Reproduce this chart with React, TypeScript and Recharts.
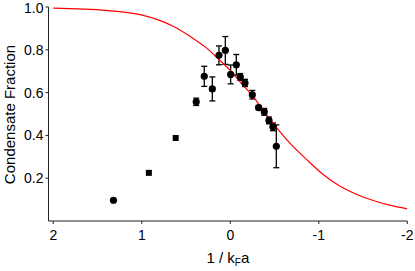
import React from 'react';
import { ComposedChart, Scatter, Line, XAxis, YAxis, ErrorBar } from 'recharts';

// measured points (circles)
const circleX = [1.32, 0.385, 0.294, 0.203, 0.128, 0.056, -0.004, -0.068, -0.113, -0.166, -0.249, -0.32, -0.384, -0.437, -0.482, -0.52];
const circleY = [0.097, 0.557, 0.676, 0.617, 0.774, 0.797, 0.685, 0.73, 0.673, 0.645, 0.59, 0.53, 0.51, 0.47, 0.44, 0.349];
const circleErr = [0, 0.017, 0.047, 0.056, 0.044, 0.065, 0.044, 0.048, 0.016, 0.017, 0.02, 0.01, 0.016, 0.016, 0.018, 0.1];

// square markers
const squareX = [0.92, 0.617];
const squareY = [0.225, 0.388];

// theory curve
const curveX = [2.0, 1.4, 1.02, 0.83, 0.64, 0.455, 0.267, 0.116, 0.0, -0.1, -0.26, -0.45, -0.655, -0.863, -1.05, -1.24, -1.43, -1.615, -1.8, -2.0];
const curveY = [0.995, 0.984, 0.964, 0.942, 0.909, 0.863, 0.808, 0.75, 0.703, 0.655, 0.58, 0.475, 0.372, 0.287, 0.217, 0.162, 0.124, 0.096, 0.074, 0.057];

const xTicks = [2, 1, 0, -1, -2];
const yTicks = [0.2, 0.4, 0.6, 0.8, 1.0];

const circles = circleX.map((x, i) => ({ x, y: circleY[i], err: circleErr[i] }));
const squares = squareX.map((x, i) => ({ x, y: squareY[i] }));
const curve = curveX.map((x, i) => ({ x, y: curveY[i] }));

const FONT = '"Liberation Sans", Arial, Helvetica, sans-serif';

const Dot = (props: any) => <circle cx={props.cx} cy={props.cy} r={3.6} fill="#000" />;
const Square = (props: any) => <rect x={props.cx - 3} y={props.cy - 3} width={6} height={6} fill="#000" />;

const XLabel = (props: any) => {
  const { viewBox } = props;
  const cx = viewBox.x + viewBox.width / 2;
  return (
    <text x={cx} y={viewBox.y + 42} textAnchor="middle" fontSize={15} fontFamily={FONT} fill="#000">
      1 / k<tspan dy={3} fontSize={10}>F</tspan><tspan dy={-3}>a</tspan>
    </text>
  );
};

const YLabel = () => (
  <text x={15} y={114.5} transform="rotate(-90, 15, 114.5)" textAnchor="middle" fontSize={15} fontFamily={FONT} fill="#000">
    Condensate Fraction
  </text>
);

export default function App() {
  return (
    <div style={{ position: 'absolute', left: 0, top: 0, background: '#fff' }}>
      <ComposedChart width={415} height={271} margin={{ top: 7, right: 7.7, bottom: 0, left: 0 }}>
        <XAxis
          type="number"
          dataKey="x"
          domain={[-2, 2.054]}
          reversed
          allowDataOverflow
          ticks={xTicks}
          tickSize={3}
          tickMargin={6}
          height={50}
          stroke="#222"
          tick={{ fill: '#000', fontSize: 14, fontFamily: FONT }}
          label={<XLabel />}
        />
        <YAxis
          type="number"
          domain={[0, 1]}
          ticks={yTicks}
          tickFormatter={(v: number) => v.toFixed(1)}
          tickSize={3}
          tickMargin={2}
          width={48.5}
          stroke="#222"
          tick={{ fill: '#000', fontSize: 14, fontFamily: FONT }}
          label={<YLabel />}
        />
        <Scatter data={squares} dataKey="y" shape={Square} isAnimationActive={false} />
        <Scatter data={circles} dataKey="y" shape={Dot} isAnimationActive={false}>
          <ErrorBar dataKey="err" direction="y" width={3} stroke="#000" strokeWidth={1.3} />
        </Scatter>
        <Line data={curve} dataKey="y" type="monotone" stroke="#ff0000" strokeWidth={1.2} dot={false} isAnimationActive={false} />
      </ComposedChart>
    </div>
  );
}
